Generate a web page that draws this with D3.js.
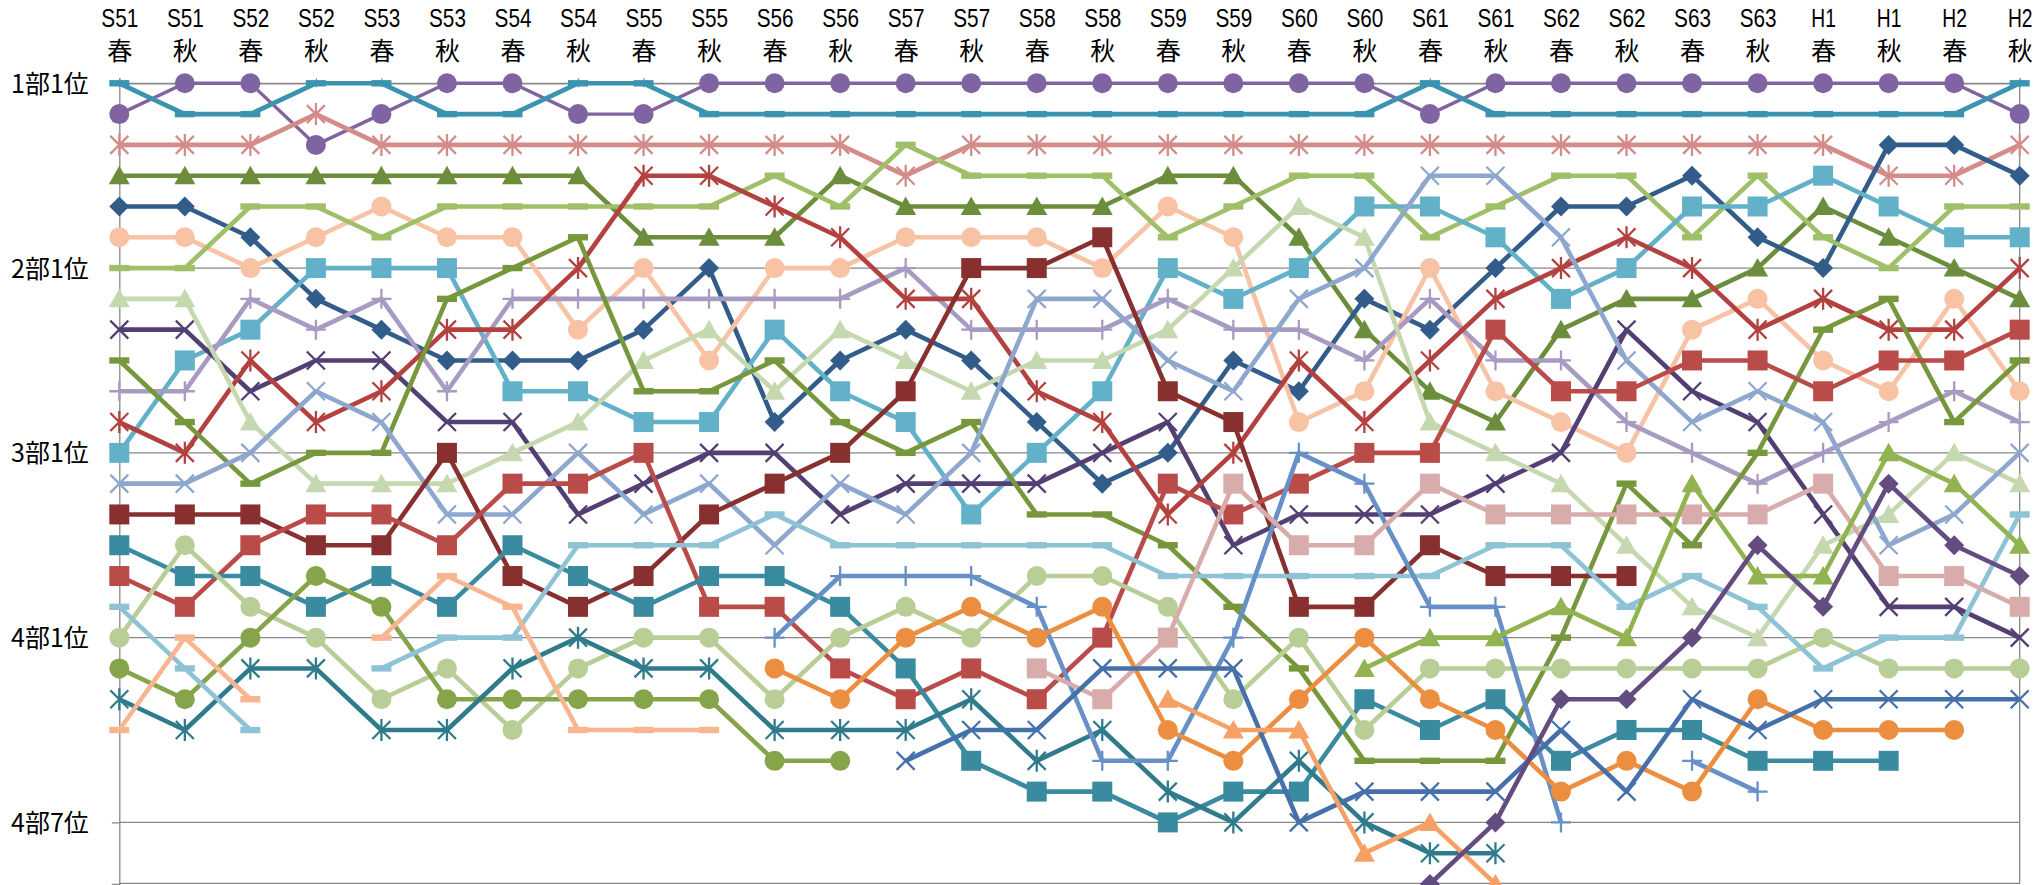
<!DOCTYPE html>
<html><head><meta charset="utf-8">
<script src="https://cdn.jsdelivr.net/npm/d3@7/dist/d3.min.js"></script>
<style>
body{margin:0;background:#fff}
svg{display:block}
text{font-family:"Noto Sans CJK JP","Noto Sans",sans-serif;fill:#000}
</style></head>
<body><svg id="chart" width="2040" height="885"></svg>
<script>
// ---- categories & tick labels ----
const eraYears = ["S51","S51","S52","S52","S53","S53","S54","S54","S55","S55","S56","S56","S57","S57","S58","S58","S59","S59","S60","S60","S61","S61","S62","S62","S63","S63","H1","H1","H2","H2"];
const seasons  = ["春","秋","春","秋","春","秋","春","秋","春","秋","春","秋","春","秋","春","秋","春","秋","春","秋","春","秋","春","秋","春","秋","春","秋","春","秋"];
const categories = eraYears.map((y,i)=>y+seasons[i]);
const rankTicks = [1,7,13,19,25];
const rankTickLabels = ["1部1位","2部1位","3部1位","4部1位","4部7位"];

// ---- series values (overall rank; null = no entry) ----
const _ = null;
const sA  = [2,1,1,3,2,1,1,2,2,1,1,1,1,1,1,1,1,1,1,1,2,1,1,1,1,1,1,1,1,2];
const sB  = [1,2,2,1,1,2,2,1,1,2,2,2,2,2,2,2,2,2,2,2,1,2,2,2,2,2,2,2,2,1];
const sC  = [3,3,3,2,3,3,3,3,3,3,3,3,4,3,3,3,3,3,3,3,3,3,3,3,3,3,3,4,4,3];
const sD  = [4,4,4,4,4,4,4,4,6,6,6,4,5,5,5,5,4,4,6,9,11,12,9,8,8,7,5,6,7,8];
const sE  = [5,5,6,8,9,10,10,10,9,7,12,10,9,10,12,14,13,10,11,8,9,7,5,5,4,6,7,3,3,4];
const sF  = [6,6,7,6,5,6,6,9,7,10,7,7,6,6,6,7,5,6,12,11,7,11,12,13,9,8,10,11,8,11];
const sG  = [7,7,5,5,6,5,5,5,5,5,4,5,3,4,4,4,6,5,4,4,6,5,4,4,6,4,6,7,5,5];
const sH  = [13,10,9,7,7,7,11,11,12,12,9,11,12,15,13,11,7,8,7,5,5,6,8,7,5,5,4,5,6,6];
const sI  = [11,11,8,9,8,11,8,8,8,8,8,8,7,9,9,9,8,9,9,10,8,10,10,12,13,14,13,12,11,12];
const sJ  = [9,9,11,10,10,12,12,15,14,13,13,15,14,14,14,13,12,16,15,15,15,14,13,9,11,12,15,18,18,19];
const sK  = [12,13,10,12,11,9,9,7,4,4,5,6,8,8,11,12,15,13,10,12,10,8,7,6,7,9,8,9,9,7];
const sL  = [8,8,12,14,14,14,13,12,10,9,11,9,10,11,10,10,9,7,5,6,12,13,14,16,18,19,16,15,13,14];
const sM  = [10,12,14,13,13,8,7,6,11,11,10,12,13,12,15,15,16,18,20,23,23,23,19,14,16,13,9,8,12,10];
const sN  = [14,14,13,11,12,15,15,13,15,14,16,14,15,13,8,8,10,11,8,7,4,4,6,10,12,11,12,16,15,13];
const sO  = [15,15,15,16,16,13,17,18,17,15,14,13,11,7,7,6,11,12,18,18,16,17,17,17,_,_,_,_,_,_];
const sP  = [17,18,16,15,15,16,14,14,13,18,18,20,21,20,21,19,14,15,14,13,13,9,11,11,10,10,11,10,10,9];
const sQ  = [16,17,17,18,17,18,16,17,18,17,17,18,20,23,24,24,25,24,24,21,22,21,23,22,22,23,23,23,_,_];
const sR  = [19,16,18,19,21,20,22,20,19,19,21,19,18,19,17,17,18,21,19,22,20,20,20,20,20,20,19,20,20,20];
const sS  = [20,21,19,17,18,21,21,21,21,21,23,23,_,_,_,_,_,_,_,_,_,_,_,_,_,_,_,_,_,_];
const sT  = [21,22,20,20,22,22,20,19,20,20,22,22,22,21,23,22,24,25,23,25,26,26,_,_,_,_,_,_,_,_];
const sU  = [18,20,22,_,20,19,19,16,16,16,15,16,16,16,16,16,17,17,17,17,17,16,16,18,17,18,20,19,19,15];
const sV  = [22,19,21,_,19,17,18,22,22,22,_,_,_,_,_,_,_,_,_,_,_,_,_,_,_,_,_,_,_,_];
const sW  = [_,_,_,_,_,_,_,_,_,_,19,17,17,17,18,23,23,19,13,14,18,18,25,_,23,24,_,_,_,_];
const sX  = [_,_,_,_,_,_,_,_,_,_,20,21,19,18,19,18,22,23,21,19,21,22,24,23,24,21,22,22,22,_];
const sY  = [_,_,_,_,_,_,_,_,_,_,_,_,_,_,20,21,19,14,16,16,14,15,15,15,15,15,14,17,17,18];
const sZ  = [_,_,_,_,_,_,_,_,_,_,_,_,23,22,22,20,20,20,25,24,24,24,22,24,21,22,21,21,21,21];
const sAA = [_,_,_,_,_,_,_,_,_,_,_,_,_,_,_,_,21,22,22,26,25,27,_,_,_,_,_,_,_,_];
const sAB = [_,_,_,_,_,_,_,_,_,_,_,_,_,_,_,_,_,_,_,20,19,19,18,19,14,17,17,13,14,16];
const sAC = [_,_,_,_,_,_,_,_,_,_,_,_,_,_,_,_,_,_,_,_,27,25,21,21,19,16,18,14,16,17];

const seriesValues = [sA,sB,sC,sD,sE,sF,sG,sH,sI,sJ,sK,sL,sM,sN,sO,sP,sQ,sR,sS,sT,sU,sV,sW,sX,sY,sZ,sAA,sAB,sAC];

// ---- styles (kept separate from data) ----
const seriesColors = ["#8064A2","#3A94B0","#D48C8A","#6C8D3B","#325C89","#F8C2A4","#9FBF68","#62B1C9","#A89BC2","#533F73",
  "#B3413F","#C6D8B0","#77973C","#8EA7CE","#88302F","#B94B48","#3A8AA0","#B9CD96","#86A44A","#2F7B8B",
  "#8EC2D5","#F8B590","#6690C6","#EC8E40","#D9ACAC","#4570AA","#F7A065","#92B351","#634C80"];
const seriesMarkers = ["circle","dash","asterisk","triangle","diamond","circle","dash","square","plus","x",
  "asterisk","triangle","dash","x","square","square","square","circle","circle","asterisk",
  "dash","dash","plus","circle","square","x","triangle","triangle","diamond"];

const plot = {left:119.3, right:2019.7, top:83.3, bottom:884};

const svg = d3.select("#chart");
const x = d3.scalePoint().domain(categories).range([plot.left, plot.right]);
const y = d3.scaleLinear().domain([1,27]).range([plot.top, plot.bottom]);

const gridColor = "#888888";
// gridlines
svg.append("g").selectAll("line").data(rankTicks).join("line")
  .attr("x1", plot.left).attr("x2", plot.right)
  .attr("y1", d=>y(d)).attr("y2", d=>y(d))
  .attr("stroke", gridColor).attr("stroke-width", 1.3);
// border right & bottom
svg.append("line").attr("x1",plot.right).attr("x2",plot.right).attr("y1",plot.top).attr("y2",plot.bottom)
  .attr("stroke",gridColor).attr("stroke-width",1.3);
svg.append("line").attr("x1",plot.left).attr("x2",plot.right).attr("y1",plot.bottom-0.7).attr("y2",plot.bottom-0.7)
  .attr("stroke",gridColor).attr("stroke-width",1.3);

// top category axis
const xAxis = d3.axisTop(x).tickSize(5).tickPadding(0).tickFormat("");
const gx = svg.append("g").attr("transform",`translate(0,${plot.top})`).call(xAxis);
gx.select(".domain").attr("stroke",gridColor).attr("stroke-width",1.3);
gx.selectAll(".tick line").attr("stroke",gridColor).attr("stroke-width",1.3).attr("y2",-5).attr("y1",4);
gx.selectAll(".tick").each(function(d,i){
  const sel = d3.select(this);
  sel.append("text").attr("text-anchor","middle")
    .style("font-family","'Liberation Sans',Arial,sans-serif").style("font-size","26px")
    .attr("x",0).attr("y",-plot.top+27)
    .attr("textLength", eraYears[i].length*12.3).attr("lengthAdjust","spacingAndGlyphs")
    .attr("fill","#000").text(eraYears[i]);
  sel.append("text").attr("text-anchor","middle").style("font-size","25px")
    .attr("x",0).attr("y",-plot.top+60).attr("fill","#000").text(seasons[i]);
});

// left value axis
const yAxis = d3.axisLeft(y).tickValues(rankTicks).tickSize(7.5).tickPadding(23)
  .tickFormat((d,i)=>rankTickLabels[i]);
const gy = svg.append("g").attr("transform",`translate(${plot.left},0)`).call(yAxis);
gy.select(".domain").attr("stroke",gridColor).attr("stroke-width",1.3);
gy.selectAll(".tick line").attr("stroke",gridColor).attr("stroke-width",1.3);
gy.selectAll(".tick text").style("font-size","25px").attr("fill","#000").attr("dy","0.36em");

// series
const line = d3.line().defined(d=>d.v!=null).x(d=>x(d.c)).y(d=>y(d.v));
const markerPath = {
  circle: d3.symbol().type(d3.symbolCircle).size(Math.PI*100)(),
  square: "M-10,-10H10V10H-10Z",
  triangle: "M0,-10L10.5,8.5L-10.5,8.5Z",
  diamond: "M0,-10L10,0L0,10L-10,0Z",
  x: "M-9,-9L9,9M-9,9L9,-9",
  asterisk: "M-9,-9L9,9M-9,9L9,-9M0,-11L0,11",
  plus: "M0,-10V10M-10,0H10",
  dash: "M-10,-3.2H10V3.2H-10Z"
};
const strokeMarkers = new Set(["x","asterisk","plus"]);

seriesValues.forEach((vals,si)=>{
  const pts = vals.map((v,i)=>({c:categories[i], v}));
  const col = seriesColors[si];
  const g = svg.append("g");
  g.append("path").datum(pts).attr("d",line)
    .attr("fill","none").attr("stroke",col)
    .attr("stroke-width", si===0 ? 3.4 : 4.6)
    .attr("stroke-linejoin","round");
  const m = seriesMarkers[si];
  g.selectAll("path.mk").data(pts.filter(p=>p.v!=null)).join("path").attr("class","mk")
    .attr("transform",p=>`translate(${x(p.c)},${y(p.v)})`)
    .attr("d", markerPath[m])
    .attr("fill", strokeMarkers.has(m) ? "none" : col)
    .attr("stroke", strokeMarkers.has(m) ? col : "none")
    .attr("stroke-width", 2.3);
});
</script>
</body></html>
